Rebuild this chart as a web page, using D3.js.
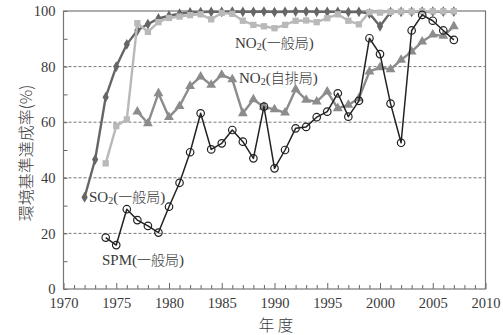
<!DOCTYPE html>
<html>
<head>
<meta charset="utf-8" />
<title>環境基準達成率</title>
<script src="https://cdnjs.cloudflare.com/ajax/libs/d3/7.8.5/d3.min.js"></script>
<style>
	body { margin: 0; background: #fff; }
	svg text { font-family: 'Liberation Serif', 'Times New Roman', 'DejaVu Serif', 'Noto Sans CJK JP', serif !important; fill: #3a3a3a; }
	svg text.jp, svg tspan.jp { font-family: 'Noto Sans CJK JP', sans-serif !important; font-weight: 300; }
</style>
</head>
<body>
<svg id="chart" width="503" height="335"></svg>
<script>
// data (values in %)
const so2Years = d3.range(1972, 2008);
const so2Values = [33, 46.6, 69, 80, 88, 93, 95.3, 97.3, 98.3, 99, 99.5,
	99.6, 99.7, 99.7, 99.8, 99.7, 99.7, 99.8, 99.6, 99.7, 99.8, 99.8, 99.7, 99.7, 99.7, 99.6, 99.7,
	99.1, 94.5, 99.6, 99.7, 99.7, 99.8, 99.8, 99.8, 99.8];

const no2GenYears = d3.range(1974, 2008);
const no2GenValues = [45.2, 58.6, 61, 95.6, 92.5, 96, 97.5, 98, 98.5, 98.8, 97, 99.3, 99,
	96.5, 95, 94.5, 93.8, 95, 96.5, 96.6, 96, 97.4, 98.8, 96.5, 95.2,
	99.6, 99.4, 99.7, 99.8, 99.8, 99.9, 99.9, 99.9, 99.9];

const no2RoadYears = d3.range(1977, 2008);
const no2RoadValues = [63.8, 59.6, 70.4, 61.8, 65.8, 73, 76.4, 73.4, 77, 75.4, 63.2, 68.2,
	65.5, 64.6, 63.4, 71.8, 68, 67.4, 71, 65, 66.2, 68.6, 78.2, 79.7, 79, 82.4, 85.4,
	89, 91.5, 91, 94.5];

const spmYears = d3.range(1974, 2008);
const spmValues = [18.5, 15.8, 28.7, 24.8, 22.7, 20.3, 29.6, 38.2, 49.2, 63.2, 50.2, 52.4,
	57.2, 53, 47, 65.6, 43.4, 50, 57.8, 58.3, 61.8, 63.8, 70.4, 62, 67.7, 90.2, 84.5,
	66.7, 52.6, 93, 98.6, 96.5, 93, 89.6];

const xTicks = d3.range(1970, 2011);
const yTicks = d3.range(0, 101, 10);
const gridValues = [20, 40, 60, 80];

const svg = d3.select("#chart");
const plotLeft = 63.5, plotRight = 485.5, plotTop = 11, plotBottom = 289;

const x = d3.scaleLinear().domain([1970, 2010]).range([plotLeft, plotRight]);
const y = d3.scaleLinear().domain([0, 100]).range([plotBottom, plotTop]);

// dashed grid
svg.append("g")
	.selectAll("line")
	.data(gridValues)
	.join("line")
	.attr("x1", plotLeft).attr("x2", plotRight)
	.attr("y1", d => y(d)).attr("y2", d => y(d))
	.attr("stroke", "#777")
	.attr("stroke-width", 1)
	.attr("stroke-dasharray", "3,2");

// axes
const xAxis = svg.append("g")
	.attr("transform", `translate(0,${plotBottom})`)
	.call(d3.axisBottom(x)
		.tickValues(xTicks)
		.tickSize(-4)
		.tickPadding(9)
		.tickFormat(d => d % 5 == 0 ? d : ""));
xAxis.selectAll(".tick line").attr("y2", d => d % 5 == 0 ? -6 : -4);

const yAxis = svg.append("g")
	.attr("transform", `translate(${plotLeft},0)`)
	.call(d3.axisLeft(y)
		.tickValues(yTicks)
		.tickSize(-4)
		.tickPadding(8)
		.tickFormat(d => d % 20 == 0 ? d : ""));

svg.selectAll(".domain").remove();
svg.selectAll(".tick line").attr("stroke", "#666");
svg.selectAll("g").attr("font-family", null);
svg.selectAll(".tick text").attr("font-size", 14.5);

// frame
svg.append("rect")
	.attr("x", plotLeft).attr("y", plotTop)
	.attr("width", plotRight - plotLeft).attr("height", plotBottom - plotTop)
	.attr("fill", "none")
	.attr("stroke", "#777")
	.attr("stroke-width", 1.2);

const line = d3.line().x(d => x(d[0])).y(d => y(d[1]));

function series(years, values, color, width, symbol, size, open) {
	let pts = years.map((yr, i) => [yr, values[i]]);
	let g = svg.append("g");
	g.append("path")
		.datum(pts)
		.attr("d", line)
		.attr("fill", "none")
		.attr("stroke", color)
		.attr("stroke-width", width)
		.attr("stroke-linejoin", "round");
	g.selectAll("path.pt")
		.data(pts)
		.join("path")
		.attr("class", "pt")
		.attr("transform", d => `translate(${x(d[0])},${y(d[1])})`)
		.attr("d", d3.symbol().type(symbol).size(size))
		.attr("fill", open ? "none" : color)
		.attr("stroke", color)
		.attr("stroke-width", open ? 1.2 : 0);
}

series(no2RoadYears, no2RoadValues, "#8c8c8c", 2.4, d3.symbolTriangle, 42, false);
series(so2Years, so2Values, "#666", 2.4, d3.symbolDiamond, 34, false);
series(no2GenYears, no2GenValues, "#b9b9b9", 2.4, d3.symbolSquare, 40, false);
series(spmYears, spmValues, "#222", 1.5, d3.symbolCircle, 44, true);

// series labels
const labels = [
	{ pre: "NO", sub: "2", post: "一般局", x: 235, y: 48 },
	{ pre: "NO", sub: "2", post: "自排局", x: 239, y: 83 },
	{ pre: "SO", sub: "2", post: "一般局", x: 89, y: 202 },
	{ pre: "SPM", sub: "", post: "一般局", x: 102, y: 265 }
];
labels.forEach(l => {
	let t = svg.append("text")
		.attr("x", l.x).attr("y", l.y)
		.attr("font-size", 15);
	t.append("tspan").text(l.pre);
	if (l.sub) {
		t.append("tspan").attr("font-size", 10).attr("dy", 2).text(l.sub);
		t.append("tspan").attr("dy", -2).text("(");
	} else {
		t.append("tspan").text("(");
	}
	t.append("tspan").attr("class", "jp").attr("font-size", 14).text(l.post);
	t.append("tspan").text(")");
});

// axis titles
svg.append("text")
	.attr("class", "jp")
	.attr("transform", "translate(32,153) rotate(-90)")
	.attr("text-anchor", "middle")
	.attr("font-size", 16)
	.text("環境基準達成率(%)");

svg.append("text")
	.attr("class", "jp")
	.attr("x", 276).attr("y", 331)
	.attr("text-anchor", "middle")
	.attr("font-size", 15.5)
	.text("年 度");
</script>
</body>
</html>
